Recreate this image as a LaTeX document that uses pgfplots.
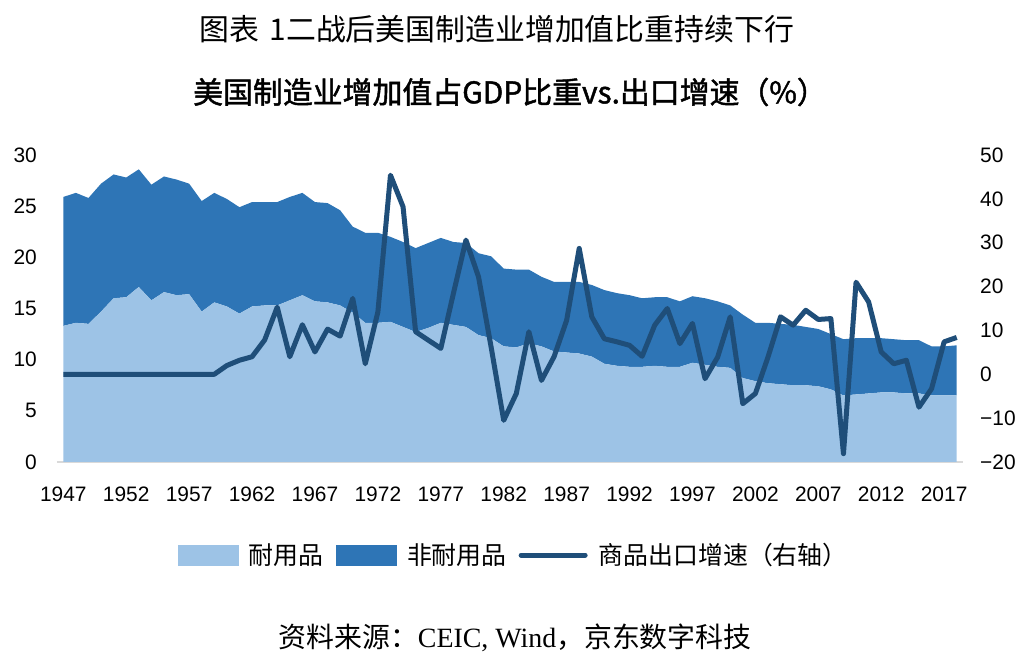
\documentclass[border=0pt]{standalone}
\usepackage{fontspec}
\usepackage{pgfplots}
\pgfplotsset{compat=1.18}
\usepackage{pgfplotstable}
\setmainfont{Liberation Sans}
\newfontfamily\cjk{Noto Sans CJK SC}
\newfontfamily\cjkb[FakeBold=1.5]{Noto Sans CJK SC}
\newfontfamily\serif{Liberation Serif}
\definecolor{durc}{RGB}{157,195,230}
\definecolor{ndurc}{RGB}{46,117,182}
\definecolor{linec}{RGB}{31,78,121}
\newcommand\ticksfont{\fontsize{21}{24}\selectfont}
\pgfplotstableread{
year dur ndur exp
1947 13.3 12.6 0
1948 13.6 12.7 0
1949 13.5 12.3 0
1950 14.7 12.5 0
1951 16.0 12.1 0
1952 16.1 11.7 0
1953 17.1 11.5 0
1954 15.8 11.3 0
1955 16.6 11.3 0
1956 16.3 11.3 0
1957 16.4 10.8 0
1958 14.7 10.8 0
1959 15.6 10.7 0
1960 15.2 10.5 2.0
1961 14.5 10.4 3.2
1962 15.2 10.2 4.0
1963 15.3 10.1 7.8
1964 15.3 10.1 15.3
1965 15.8 10.1 4.0
1966 16.3 10.0 11.3
1967 15.7 9.7 5.1
1968 15.6 9.7 10.3
1969 15.3 9.3 8.7
1970 14.6 8.4 17.3
1971 13.6 8.8 2.4
1972 13.6 8.8 14.2
1973 13.7 8.3 45.4
1974 13.2 8.3 38.2
1975 12.7 8.2 9.7
1976 13.1 8.3 7.8
1977 13.6 8.3 5.9
1978 13.4 8.1 18.4
1979 13.2 8.2 30.6
1980 12.4 8.0 22.2
1981 12.1 8.0 6.2
1982 11.3 7.6 -10.5
1983 11.2 7.6 -4.4
1984 11.6 7.2 9.7
1985 11.3 6.8 -1.4
1986 10.8 6.8 4.0
1987 10.7 6.9 12.3
1988 10.6 7.0 28.7
1989 10.3 7.0 13.1
1990 9.6 7.2 8.1
1991 9.4 7.1 7.4
1992 9.3 7.0 6.6
1993 9.3 6.7 4.1
1994 9.4 6.7 11.2
1995 9.3 6.8 15.0
1996 9.3 6.4 7.0
1997 9.7 6.5 11.6
1998 9.5 6.5 -1.0
1999 9.3 6.4 3.9
2000 9.2 6.1 13.1
2001 8.2 6.2 -6.7
2002 7.9 5.7 -4.4
2003 7.7 5.9 3.9
2004 7.6 5.9 13.1
2005 7.5 5.9 11.2
2006 7.5 5.7 14.6
2007 7.4 5.6 12.5
2008 7.1 5.4 12.7
2009 6.5 5.5 -18.1
2010 6.6 5.5 21.0
2011 6.7 5.4 16.5
2012 6.8 5.3 5.1
2013 6.8 5.2 2.4
2014 6.7 5.2 3.2
2015 6.7 5.2 -7.5
2016 6.5 4.8 -3.3
2017 6.5 4.8 7.4
2018 6.5 4.9 8.4
}\data
\begin{document}
\begin{tikzpicture}
\path[use as bounding box] (-57bp,-203bp) rectangle (973bp,462bp);
\begin{axis}[
  at={(0,0)}, anchor=south west,
  scale only axis, width=906bp, height=307bp,
  xmin=1946.5, xmax=2018.5, ymin=0, ymax=30,
  axis x line*=bottom, axis y line*=left,
  y axis line style={draw=none},
  x axis line style={draw=black!15, line width=1.5bp, -},
  major tick length=0pt,
  xtick={1947,1952,...,2017},
  xticklabels={1947,1952,1957,1962,1967,1972,1977,1982,1987,1992,1997,2002,2007,2012,2017},
  xticklabel style={font=\ticksfont, anchor=north, inner sep=0pt, yshift=-25bp},
  ytick={0,5,...,30},
  yticklabels={0,5,10,15,20,25,30},
  yticklabel style={font=\ticksfont, anchor=east, inner sep=0pt, xshift=-20bp},
  stack plots=y,
]
\addplot[fill=durc, draw=none] table[x=year,y=dur]{\data} \closedcycle;
\addplot[fill=ndurc, draw=none] table[x=year,y=ndur]{\data} \closedcycle;
\end{axis}
\begin{axis}[
  at={(0,0)}, anchor=south west,
  scale only axis, width=906bp, height=307bp,
  xmin=1946.5, xmax=2018.5, ymin=-20, ymax=50,
  hide x axis,
  axis y line*=right,
  y axis line style={draw=none},
  major tick length=0pt,
  ytick={-20,-10,...,50},
  yticklabels={−20,−10,0,10,20,30,40,50},
  yticklabel style={font=\ticksfont, anchor=west, inner sep=0pt, xshift=17bp},
  legend style={at={(0.504,-0.303)}, anchor=center, draw=none, fill=none,
    font=\cjk\fontsize{25}{30}\selectfont, inner sep=0pt,
    /tikz/every odd column/.append style={column sep=9bp},
    /tikz/every even column/.append style={column sep=10bp}},
  legend columns=3,
  legend cell align=left,
]
\addlegendimage{legend image code/.code={\fill[durc] (0bp,-10bp) rectangle (60bp,10bp);}}
\addlegendentry{耐用品}
\addlegendimage{legend image code/.code={\fill[ndurc] (0bp,-10bp) rectangle (60bp,10bp);}}
\addlegendentry{非耐用品}
\addlegendimage{legend image code/.code={\draw[linec, line width=5bp, line cap=round] (0bp,0bp) -- (64bp,0bp);}}
\addlegendentry{商品出口增速（右轴）}
\addplot[linec, line width=5bp, line join=round, forget plot] table[x=year,y=exp]{\data};
\end{axis}
\node[font=\cjk\fontsize{30}{36}\selectfont] at (440bp,433bp) {图表\hspace{10bp}1二战后美国制造业增加值比重持续下行};
\node[font=\cjkb\fontsize{30}{35}\selectfont] at (453bp,370bp) {美国制造业增加值占GDP比重vs.出口增速（\%）};
\node[font=\cjk\fontsize{28}{32}\selectfont] at (458bp,-176bp) {资料来源：{\serif CEIC, Wind}，京东数字科技};
\end{tikzpicture}
\end{document}
